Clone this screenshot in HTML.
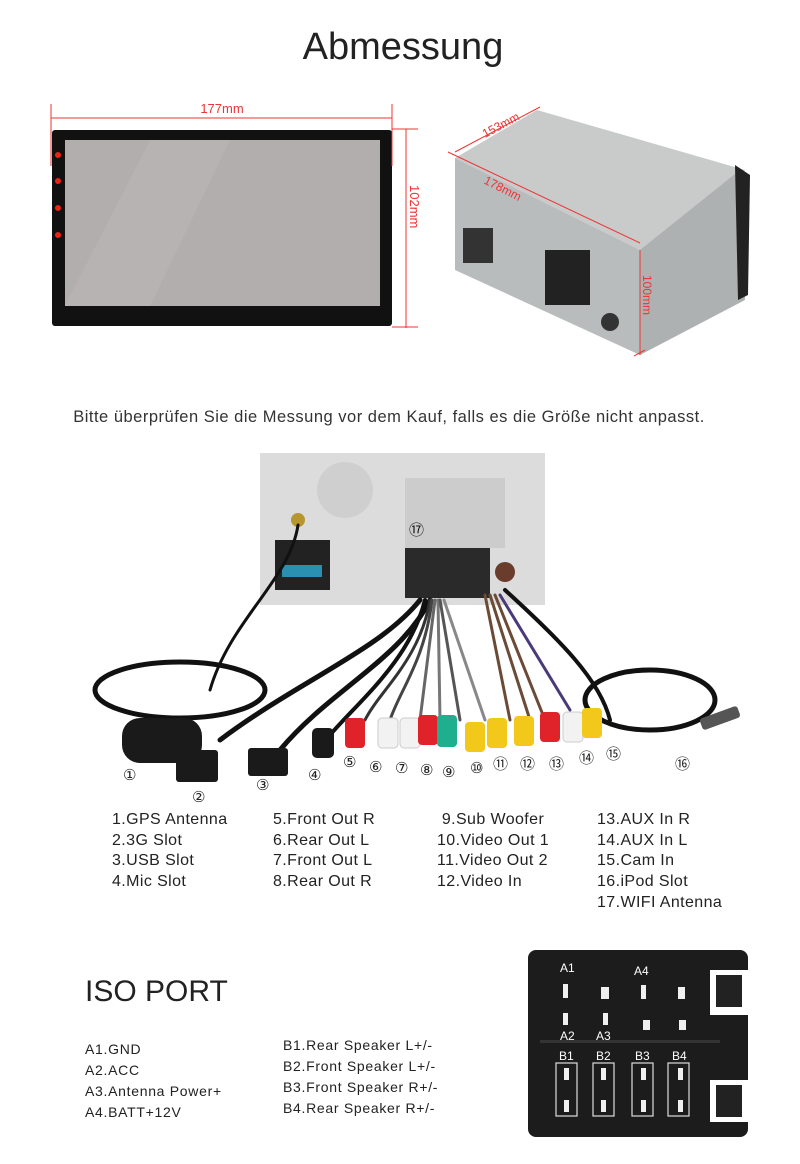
<!DOCTYPE html>
<html><head><meta charset="utf-8"><style>
body{margin:0;width:800px;height:1164px;background:#fff;position:relative;overflow:hidden;font-family:"Liberation Sans",sans-serif;color:#222}
.a{position:absolute;white-space:nowrap}
.n{position:absolute;font-family:"DejaVu Sans",sans-serif;font-size:15px;color:#222}
.l{position:absolute;font-size:16px;letter-spacing:0.4px;line-height:20.7px;color:#222;white-space:nowrap}
.s{position:absolute;font-size:14px;letter-spacing:0.7px;line-height:21px;color:#222;white-space:nowrap}
</style></head><body>
<div class="a" style="left:0;width:806px;text-align:center;top:26px;font-size:38px;font-weight:300;color:#222">Abmessung</div>

<svg class="a" style="left:0;top:0" width="800" height="1164">
<rect x="52" y="130" width="340" height="196" rx="3" fill="#111"/>
<rect x="65" y="140" width="315" height="166" fill="#b3aeae"/>
<polygon points="150,140 230,140 150,306 65,306" fill="#bbb6b6" opacity=".6"/>
<g fill="#e21"><circle cx="58" cy="155" r="3"/><circle cx="58" cy="181" r="3"/><circle cx="58" cy="208" r="3"/><circle cx="58" cy="235" r="3"/></g>
<g stroke="#e33" stroke-width="1" fill="none">
<line x1="51" y1="118" x2="392" y2="118"/><line x1="51" y1="104" x2="51" y2="166"/><line x1="392" y1="104" x2="392" y2="166"/>
<line x1="406" y1="129" x2="406" y2="328"/><line x1="392" y1="129" x2="418" y2="129"/><line x1="392" y1="327" x2="418" y2="327"/>
</g>
<text x="222" y="113" font-size="13" fill="#e33" text-anchor="middle" font-family="Liberation Sans">177mm</text>
<text x="0" y="0" font-size="13" fill="#e33" font-family="Liberation Sans" transform="translate(410,185) rotate(90)">102mm</text>

<polygon points="455,158 537,110 745,170 690,250 640,250" fill="#c9cbcb"/>
<polygon points="455,158 640,250 640,355 455,270" fill="#b9bcbc"/>
<polygon points="640,250 740,170 745,300 640,355" fill="#aeb1b1"/>
<polygon points="735,165 750,175 748,295 738,300" fill="#222"/>
<rect x="545" y="250" width="45" height="55" fill="#222"/>
<rect x="463" y="228" width="30" height="35" fill="#333"/>
<circle cx="610" cy="322" r="9" fill="#333"/>
<g stroke="#e33" stroke-width="1" fill="none">
<line x1="455" y1="152" x2="540" y2="107"/><line x1="448" y1="152" x2="640" y2="243"/><line x1="640" y1="250" x2="640" y2="355"/><line x1="634" y1="356" x2="645" y2="350"/>
</g>
<text font-size="12" fill="#e33" font-family="Liberation Sans" transform="translate(485,138) rotate(-28)">153mm</text>
<text font-size="12" fill="#e33" font-family="Liberation Sans" transform="translate(483,183) rotate(27)">178mm</text>
<text font-size="12" fill="#e33" font-family="Liberation Sans" transform="translate(643,275) rotate(90)">100mm</text>

<rect x="260" y="453" width="285" height="152" fill="#dcdcdc"/>
<circle cx="345" cy="490" r="28" fill="#cfcfcf"/>
<rect x="405" y="478" width="100" height="70" fill="#ccc"/>
<rect x="275" y="540" width="55" height="50" fill="#222"/>
<rect x="282" y="565" width="40" height="12" fill="#2a8fb0"/>
<circle cx="298" cy="520" r="7" fill="#b8962f"/>
<rect x="405" y="548" width="85" height="50" fill="#2a2a2a"/>
<circle cx="505" cy="572" r="10" fill="#6a3c2c"/>
<g fill="none" stroke-linecap="round">
<path d="M298,525 C290,580 230,620 210,690" stroke="#111" stroke-width="3"/>
<ellipse cx="180" cy="690" rx="85" ry="28" stroke="#111" stroke-width="5"/>
<ellipse cx="650" cy="700" rx="65" ry="30" stroke="#111" stroke-width="5"/>
<path d="M420,600 C380,650 300,680 220,740" stroke="#111" stroke-width="5"/>
<path d="M430,600 C400,660 330,690 280,750" stroke="#111" stroke-width="5"/>
<path d="M425,600 C410,660 360,700 330,735" stroke="#111" stroke-width="4"/>
<path d="M430,600 C420,660 380,690 365,720" stroke="#333" stroke-width="3"/>
<path d="M432,600 C425,660 400,690 390,720" stroke="#444" stroke-width="3"/>
<path d="M435,600 L420,720" stroke="#666" stroke-width="3"/>
<path d="M438,600 L440,720" stroke="#777" stroke-width="3"/>
<path d="M440,600 L460,720" stroke="#555" stroke-width="3"/>
<path d="M444,600 L485,720" stroke="#888" stroke-width="3"/>
<path d="M485,595 L510,720" stroke="#6b4a36" stroke-width="3"/>
<path d="M490,595 L530,720" stroke="#6b4a36" stroke-width="3"/>
<path d="M495,595 L545,720" stroke="#6b4a36" stroke-width="3"/>
<path d="M500,595 L570,710" stroke="#4a3a7a" stroke-width="3"/>
<path d="M505,590 C560,640 600,680 610,720" stroke="#111" stroke-width="4"/>
</g>
<rect x="122" y="718" width="80" height="45" rx="18" fill="#1a1a1a"/>
<rect x="176" y="750" width="42" height="32" rx="3" fill="#1a1a1a"/>
<rect x="248" y="748" width="40" height="28" rx="3" fill="#1a1a1a"/>
<rect x="312" y="728" width="22" height="30" rx="5" fill="#1a1a1a"/>
<g>
<rect x="345" y="718" width="20" height="30" rx="4" fill="#e0222a"/>
<rect x="378" y="718" width="20" height="30" rx="4" fill="#f2f2f2" stroke="#ccc"/>
<rect x="400" y="718" width="20" height="30" rx="4" fill="#f2f2f2" stroke="#ccc"/>
<rect x="418" y="715" width="20" height="30" rx="4" fill="#e0222a"/>
<rect x="437" y="715" width="20" height="32" rx="4" fill="#1fae8e"/>
<rect x="465" y="722" width="20" height="30" rx="4" fill="#f2c81a"/>
<rect x="487" y="718" width="20" height="30" rx="4" fill="#f2c81a"/>
<rect x="514" y="716" width="20" height="30" rx="4" fill="#f2c81a"/>
<rect x="540" y="712" width="20" height="30" rx="4" fill="#e0222a"/>
<rect x="563" y="712" width="20" height="30" rx="4" fill="#f2f2f2" stroke="#ccc"/>
<rect x="582" y="708" width="20" height="30" rx="4" fill="#f2c81a"/>
</g>
<rect x="700" y="712" width="40" height="12" rx="3" fill="#555" transform="rotate(-20 720 718)"/>

<rect x="528" y="950" width="220" height="187" rx="8" fill="#1c1c1c"/>
<rect x="710" y="970" width="38" height="45" fill="#fff"/>
<rect x="710" y="1080" width="38" height="42" fill="#fff"/>
<rect x="716" y="975" width="26" height="32" fill="#222"/>
<rect x="716" y="1085" width="26" height="32" fill="#222"/>
<rect x="540" y="1040" width="180" height="3" fill="#333"/>
<g fill="#f0f0f0">
<rect x="563" y="984" width="5" height="14"/><rect x="601" y="987" width="8" height="12"/><rect x="641" y="985" width="5" height="14"/><rect x="678" y="987" width="7" height="12"/>
<rect x="563" y="1013" width="5" height="12"/><rect x="603" y="1013" width="5" height="12"/><rect x="643" y="1020" width="7" height="10"/><rect x="679" y="1020" width="7" height="10"/>
<rect x="564" y="1068" width="5" height="12"/><rect x="601" y="1068" width="5" height="12"/><rect x="641" y="1068" width="5" height="12"/><rect x="678" y="1068" width="5" height="12"/>
<rect x="564" y="1100" width="5" height="12"/><rect x="601" y="1100" width="5" height="12"/><rect x="641" y="1100" width="5" height="12"/><rect x="678" y="1100" width="5" height="12"/>
</g>
<g fill="none" stroke="#ddd" stroke-width="1.2">
<rect x="556" y="1063" width="21" height="53"/><rect x="593" y="1063" width="21" height="53"/><rect x="632" y="1063" width="21" height="53"/><rect x="668" y="1063" width="21" height="53"/>
</g>
<g fill="#fff" font-size="12" font-family="Liberation Sans">
<text x="560" y="972">A1</text><text x="634" y="975">A4</text><text x="560" y="1040">A2</text><text x="596" y="1040">A3</text>
<text x="559" y="1060">B1</text><text x="596" y="1060">B2</text><text x="635" y="1060">B3</text><text x="672" y="1060">B4</text>
</g>
</svg>

<div class="a" style="left:0;width:778px;text-align:center;top:408px;font-size:16.5px;letter-spacing:0.5px;color:#333">Bitte überprüfen Sie die Messung vor dem Kauf, falls es die Größe nicht anpasst.</div>

<div class="n" style="left:409px;top:519px;color:#111">⑰</div>
<div class="n" style="left:123px;top:766px">①</div>
<div class="n" style="left:192px;top:788px">②</div>
<div class="n" style="left:256px;top:776px">③</div>
<div class="n" style="left:308px;top:766px">④</div>
<div class="n" style="left:343px;top:753px">⑤</div>
<div class="n" style="left:369px;top:758px">⑥</div>
<div class="n" style="left:395px;top:759px">⑦</div>
<div class="n" style="left:420px;top:761px">⑧</div>
<div class="n" style="left:442px;top:763px">⑨</div>
<div class="n" style="left:470px;top:759px">⑩</div>
<div class="n" style="left:493px;top:753px">⑪</div>
<div class="n" style="left:520px;top:753px">⑫</div>
<div class="n" style="left:549px;top:753px">⑬</div>
<div class="n" style="left:579px;top:747px">⑭</div>
<div class="n" style="left:606px;top:743px">⑮</div>
<div class="n" style="left:675px;top:753px">⑯</div>

<div class="l" style="left:112px;top:810px">1.GPS Antenna<br>2.3G Slot<br>3.USB Slot<br>4.Mic Slot</div>
<div class="l" style="left:273px;top:810px">5.Front Out R<br>6.Rear Out L<br>7.Front Out L<br>8.Rear Out R</div>
<div class="l" style="left:437px;top:810px">&nbsp;9.Sub Woofer<br>10.Video Out 1<br>11.Video Out 2<br>12.Video In</div>
<div class="l" style="left:597px;top:810px">13.AUX In R<br>14.AUX In L<br>15.Cam In<br>16.iPod Slot<br>17.WIFI Antenna</div>

<div class="a" style="left:85px;top:975px;font-size:30px;font-weight:300;color:#222">ISO PORT</div>
<div class="s" style="left:85px;top:1039px">A1.GND<br>A2.ACC<br>A3.Antenna Power+<br>A4.BATT+12V</div>
<div class="s" style="left:283px;top:1035px">B1.Rear Speaker L+/-<br>B2.Front Speaker L+/-<br>B3.Front Speaker R+/-<br>B4.Rear Speaker R+/-</div>
</body></html>
